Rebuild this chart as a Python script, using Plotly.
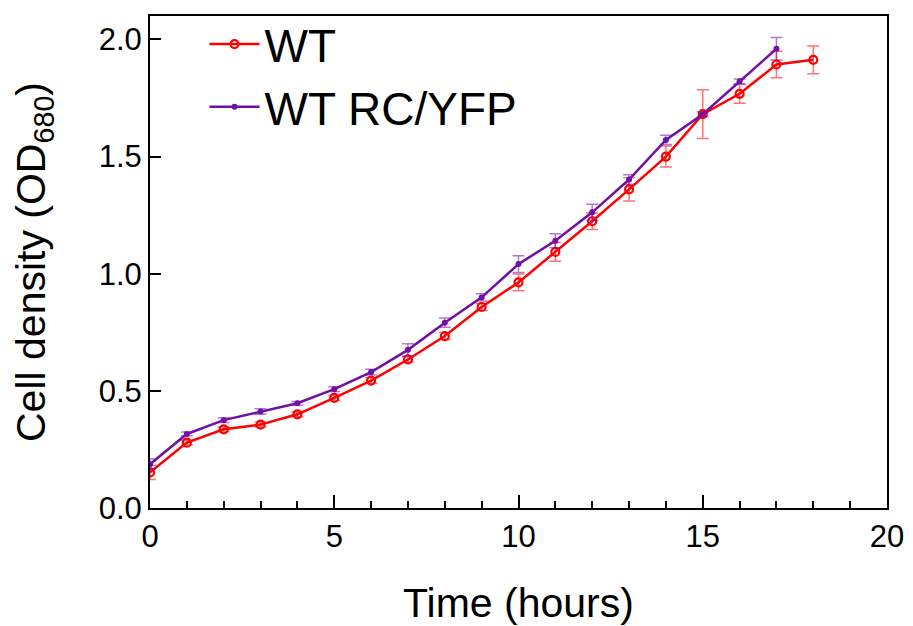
import plotly.graph_objects as go

hours = [0, 1, 2, 3, 4, 5, 6, 7, 8, 9, 10, 11, 12, 13, 14, 15, 16, 17, 18]
wt = [0.152, 0.279, 0.336, 0.356, 0.400, 0.470, 0.544, 0.634, 0.734, 0.858,
      0.963, 1.093, 1.224, 1.360, 1.500, 1.681, 1.768, 1.893, 1.913]
wt_err = [0.030, 0.010, 0.010, 0.010, 0.010, 0.010, 0.012, 0.012, 0.015, 0.015,
          0.036, 0.040, 0.035, 0.050, 0.045, 0.104, 0.040, 0.057, 0.059]
hours_rc = [0, 1, 2, 3, 4, 5, 6, 7, 8, 9, 10, 11, 12, 13, 14, 15, 16, 17]
rc = [0.187, 0.316, 0.375, 0.412, 0.447, 0.507, 0.580, 0.675, 0.791, 0.899,
      1.041, 1.141, 1.262, 1.402, 1.571, 1.681, 1.821, 1.960]
rc_err = [0.022, 0.008, 0.010, 0.012, 0.008, 0.010, 0.012, 0.026, 0.020, 0.015,
          0.036, 0.030, 0.035, 0.020, 0.020, 0.010, 0.010, 0.048]

RED = "#FF0000"
PURPLE = "#7010A8"

fig = go.Figure()
fig.add_trace(go.Scatter(
    x=hours, y=wt, name="WT", mode="lines+markers",
    line=dict(color=RED, width=2.5),
    marker=dict(symbol="circle-open", size=8, color=RED, line=dict(width=2.2, color=RED)),
    error_y=dict(type="data", array=wt_err, color="rgba(255,0,0,0.55)", thickness=1.5, width=6),
))
fig.add_trace(go.Scatter(
    x=hours_rc, y=rc, name="WT RC/YFP", mode="lines+markers",
    line=dict(color=PURPLE, width=2.5),
    marker=dict(symbol="circle", size=6, color=PURPLE),
    error_y=dict(type="data", array=rc_err, color="rgba(112,16,168,0.55)", thickness=1.5, width=6),
))

font_family = "Liberation Sans, Arial, sans-serif"
fig.update_layout(
    width=913, height=626,
    margin=dict(l=150, r=26, t=16, b=118, autoexpand=False),
    paper_bgcolor="white", plot_bgcolor="white",
    font=dict(family=font_family, color="black"),
    showlegend=True,
    legend=dict(x=0.074, y=1.017, xanchor="left", yanchor="top",
                font=dict(size=46, family=font_family, color="black"),
                bgcolor="rgba(0,0,0,0)", itemwidth=50, tracegroupgap=0),
    xaxis=dict(
        range=[0, 20], tickvals=[0, 5, 10, 15, 20],
        ticks="inside", ticklen=13, tickwidth=2, tickcolor="black",
        minor=dict(dtick=1, ticks="inside", ticklen=7, tickwidth=2, tickcolor="black"),
        showline=True, linecolor="black", linewidth=2, mirror=True,
        showgrid=False, zeroline=False, automargin=False,
        tickfont=dict(size=31, family=font_family),
        title=dict(text="Time (hours)", font=dict(size=41, family=font_family), standoff=35),
    ),
    yaxis=dict(
        range=[0, 2.1], tickvals=[0, 0.5, 1.0, 1.5, 2.0], ticktext=["0.0", "0.5", "1.0", "1.5", "2.0"],
        ticks="inside", ticklen=11, tickwidth=2, tickcolor="black",
        showline=True, linecolor="black", linewidth=2, mirror=True,
        showgrid=False, zeroline=False, automargin=False,
        tickfont=dict(size=31, family=font_family),
        title=dict(text="Cell density (OD<sub>680</sub>)", font=dict(size=41, family=font_family), standoff=40),
    ),
)

fig.write_html("out.html")
